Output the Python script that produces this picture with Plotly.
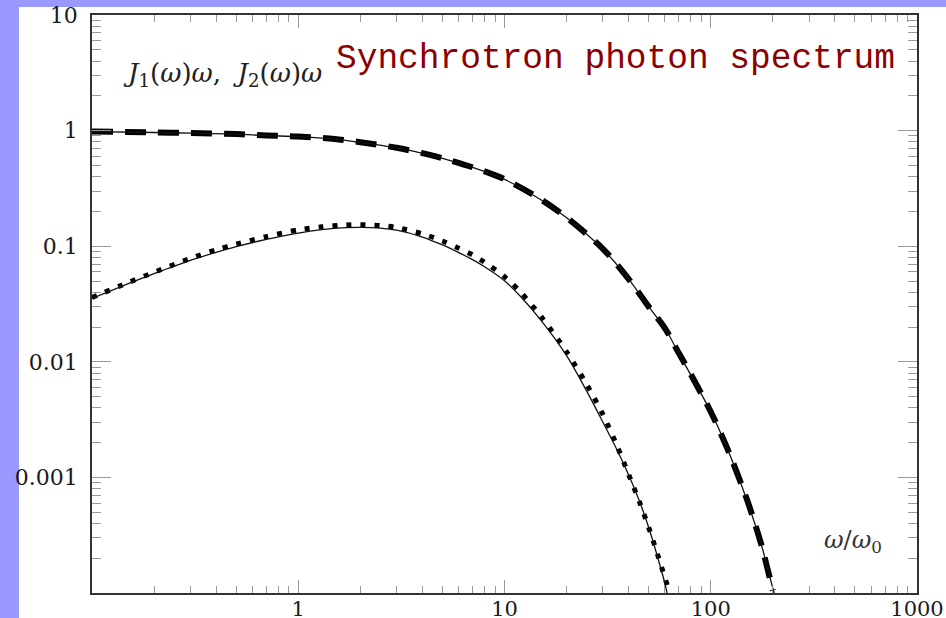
import plotly.graph_objects as go

# Frequency grid (omega / omega_0) and spectra J1(w)w (upper) and J2(w)w (lower)
omega_j1 = [0.1, 0.2, 0.3, 0.5, 0.7, 1, 1.5, 2, 3, 4, 5, 7, 10, 15, 20,
            30, 40, 50, 60, 70, 80, 100, 120, 150, 175, 200, 215]
j1_exact = [0.98, 0.963, 0.952, 0.932, 0.905, 0.888, 0.845, 0.792, 0.708, 0.636,
            0.576, 0.481, 0.378, 0.252, 0.176, 0.094, 0.052, 0.030, 0.0195,
            0.0118, 0.0077, 0.0037, 0.0018, 0.00063, 0.00027, 0.00011, 0.00007]

omega_j1_fit = [0.1, 0.2, 0.3, 0.5, 0.7, 1, 1.5, 2, 3, 4, 5, 7, 10, 15, 20,
                30, 40, 50, 60, 70, 80, 100, 120, 150, 175, 200]
j1_fit = [0.982, 0.964, 0.953, 0.933, 0.907, 0.889, 0.846, 0.794, 0.71, 0.638,
          0.578, 0.482, 0.38, 0.254, 0.177, 0.095, 0.052, 0.030, 0.0195,
          0.0119, 0.0078, 0.0037, 0.0018, 0.00064, 0.00027, 0.000105]

omega_j2 = [0.1, 0.15, 0.2, 0.3, 0.4, 0.5, 0.7, 1, 1.3, 1.7, 2, 2.5, 3, 4, 5,
            6, 7, 8, 10, 12, 15, 20, 25, 30, 35, 40, 45, 50, 55, 60, 63]
j2_exact = [0.0354, 0.0475, 0.058, 0.0755, 0.0885, 0.099, 0.1145, 0.130, 0.139,
            0.1445, 0.1455, 0.1435, 0.1375, 0.120, 0.1025, 0.088, 0.0765, 0.0665,
            0.0503, 0.0365, 0.0229, 0.0113, 0.0056, 0.0030, 0.00175, 0.00105,
            0.00063, 0.00037, 0.00021, 0.00012, 0.00008]

omega_j2_fit = [0.1, 0.15, 0.2, 0.3, 0.4, 0.5, 0.7, 1, 1.3, 1.7, 2, 2.5, 3, 4, 5,
                6, 7, 8, 10, 12, 15, 20, 25, 30, 35, 40, 45, 50, 55, 61.5]
j2_fit = [0.036, 0.0485, 0.0595, 0.0785, 0.093, 0.104, 0.121, 0.1385, 0.147,
          0.1525, 0.1535, 0.151, 0.145, 0.128, 0.111, 0.096, 0.084, 0.0728,
          0.0545, 0.0398, 0.0248, 0.0122, 0.0064, 0.0035, 0.0019, 0.00106,
          0.00062, 0.00037, 0.00022, 0.000117]

# Axis ticks
x_major = [0.1, 1, 10, 100, 1000]
x_labels = ["", "1", "10", "100", "1000"]
y_major = [0.0001, 0.001, 0.01, 0.1, 1, 10]
y_labels = ["", "0.001", "0.01", "0.1", "1", "10"]
x_minor = [m * 10.0 ** k for k in range(-1, 3) for m in range(2, 10)]
y_minor = [m * 10.0 ** k for k in range(-4, 1) for m in range(2, 10)]

W, H = 946, 618
ML, MR, MT, MB = 92, 29, 15, 25
PW, PH = W - ML - MR, H - MT - MB


def px_x(px):
    return (px - ML) / PW


def px_y(py):
    return (H - MB - py) / PH


fig = go.Figure()

fig.add_trace(go.Scatter(
    x=omega_j1_fit, y=j1_fit, mode="lines", line_shape="spline",
    line=dict(color="black", width=6, dash="21px,12px", smoothing=0.8),
    showlegend=False))
fig.add_trace(go.Scatter(
    x=omega_j2_fit, y=j2_fit, mode="lines", line_shape="spline",
    line=dict(color="black", width=5, dash="5px,9px", smoothing=0.8),
    showlegend=False))
fig.add_trace(go.Scatter(
    x=omega_j1, y=j1_exact, mode="lines", line_shape="spline",
    line=dict(color="#111111", width=1.3, smoothing=0.8), showlegend=False))
fig.add_trace(go.Scatter(
    x=omega_j2, y=j2_exact, mode="lines", line_shape="spline",
    line=dict(color="#111111", width=1.3, smoothing=0.8), showlegend=False))

tick_font = dict(family="DejaVu Serif", size=22, color="#1a1a1a")

fig.update_xaxes(
    type="log", range=[-1, 3], showgrid=False, zeroline=False, automargin=False,
    showline=True, linecolor="#333333", linewidth=1.6, mirror="allticks",
    ticks="inside", ticklen=13, tickwidth=1, tickcolor="#9a9a9a",
    tickmode="array", tickvals=x_major, ticktext=x_labels,
    tickfont=dict(family="DejaVu Serif", size=21, color="#1a1a1a"),
    ticklabelstandoff=-4,
    minor=dict(ticks="inside", ticklen=7, tickwidth=1, tickcolor="#9a9a9a",
               tickmode="array", tickvals=x_minor, showgrid=False),
)
fig.update_yaxes(
    type="log", range=[-4, 1], showgrid=False, zeroline=False, automargin=False,
    showline=True, linecolor="#333333", linewidth=1.6, mirror="allticks",
    ticks="inside", ticklen=19, tickwidth=1, tickcolor="#9a9a9a",
    tickmode="array", tickvals=y_major, ticktext=y_labels,
    tickfont=tick_font, ticklabelstandoff=8,
    minor=dict(ticks="inside", ticklen=9, tickwidth=1, tickcolor="#9a9a9a",
               tickmode="array", tickvals=y_minor, showgrid=False),
)

# White slide panel on the lavender background
fig.add_shape(type="rect", xref="paper", yref="paper", layer="below",
              x0=px_x(19), x1=px_x(W + 5), y0=px_y(H + 5), y1=px_y(7),
              fillcolor="white", line=dict(width=0))

fig.add_annotation(
    xref="paper", yref="paper", x=px_x(121), y=px_y(74),
    xanchor="left", yanchor="middle", showarrow=False,
    text="<i>J</i><sub>1</sub>(<i>ω</i>)<i>ω</i>,&nbsp; <i>J</i><sub>2</sub>(<i>ω</i>)<i>ω</i>",
    font=dict(family="DejaVu Serif", size=26, color="#222222"))
fig.add_annotation(
    xref="paper", yref="paper", x=px_x(334), y=px_y(59),
    xanchor="left", yanchor="middle", showarrow=False,
    text="Synchrotron photon spectrum",
    font=dict(family="Liberation Mono", size=34.5, color="#8b0000"))
fig.add_annotation(
    xref="paper", yref="paper", x=px_x(853), y=px_y(541),
    xanchor="center", yanchor="middle", showarrow=False,
    text="<i>ω</i>/<i>ω</i><sub>0</sub>",
    font=dict(family="DejaVu Serif", size=24, color="#333333"))

fig.update_layout(
    width=W, height=H, autosize=False,
    margin=dict(l=ML, r=MR, t=MT, b=MB, pad=0),
    paper_bgcolor="#9999ff", plot_bgcolor="white",
)

fig.write_html("out.html")
